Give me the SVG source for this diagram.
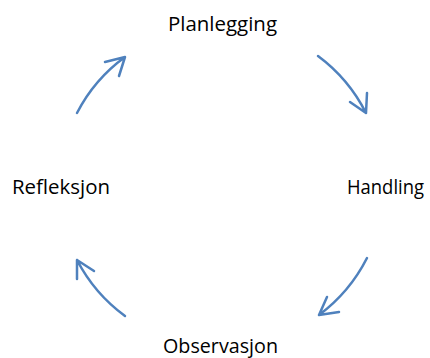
<svg xmlns="http://www.w3.org/2000/svg" width="430" height="358" viewBox="0 0 430 358">
  <style>
    .label { font-family: "Open Sans", "Liberation Sans", Arial, sans-serif; font-size: 20px; fill: #000; text-anchor: middle; }
    .arc { fill: none; stroke: #4f81bd; stroke-width: 2.5; stroke-linecap: round; stroke-linejoin: round; }
  </style>
  <rect width="430" height="358" fill="#fff"/>

  <g id="node-planlegging"><text class="label" x="222.5" y="31" textLength="109" lengthAdjust="spacingAndGlyphs">Planlegging</text></g>
  <g id="node-handling"><text class="label" x="385.5" y="194" textLength="77" lengthAdjust="spacingAndGlyphs">Handling</text></g>
  <g id="node-observasjon"><text class="label" x="220.5" y="353" textLength="115" lengthAdjust="spacingAndGlyphs">Observasjon</text></g>
  <g id="node-refleksjon"><text class="label" x="61" y="194" textLength="98" lengthAdjust="spacingAndGlyphs">Refleksjon</text></g>

  <!-- clockwise cycle arrows, arcs around a common centre -->
  <g id="connectors">
    <path class="arc" d="M318 56 A162 162 0 0 1 366 113 M367 93 L366 113 L350 102"/>
    <path class="arc" d="M367 258 A163 163 0 0 1 319 315 M327 297 L319 315 L339 312"/>
    <path class="arc" d="M125 316 A162 162 0 0 1 77 260 M77 279 L77 260 L94 271"/>
    <path class="arc" d="M77 113 A160 160 0 0 1 125 57 M105 62 L125 57 L119 76"/>
  </g>
</svg>
